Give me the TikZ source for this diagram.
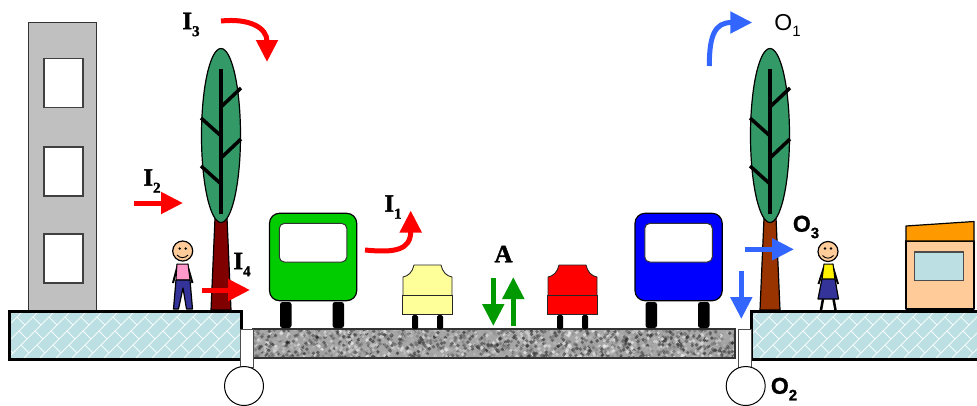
\documentclass[tikz,border=0pt]{standalone}
\usepackage{fontspec}
\setmainfont{Liberation Serif}[BoldFeatures={FakeBold=1.6}]
\newfontfamily\lblsans{Liberation Sans}[BoldFeatures={FakeBold=1}]
\usepackage{xcolor}
\usepackage{tikz}
\usetikzlibrary{arrows.meta}

\definecolor{wallgray}{HTML}{C0C0C0}
\definecolor{paveblue}{HTML}{BBDFE3}
\definecolor{leafgreen}{HTML}{339966}
\definecolor{trunkred}{HTML}{800000}
\definecolor{trunkbrown}{HTML}{993300}
\definecolor{busgreen}{HTML}{00CC00}
\definecolor{busblue}{HTML}{0000FF}
\definecolor{carcream}{HTML}{FFFF99}
\definecolor{skintone}{HTML}{FFCC99}
\definecolor{pinkshirt}{HTML}{FF99CC}
\definecolor{navycloth}{HTML}{333399}
\definecolor{roofamber}{HTML}{FF9900}
\definecolor{arrowgreen}{HTML}{009900}
\definecolor{arrowblue}{HTML}{3366FF}

\newcommand{\flowlbl}[2]{#1\raisebox{-.28em}{\fontsize{15}{15}\selectfont #2}}

\tikzset{
  flowred/.style={red,line width=5pt,-{Triangle[length=22pt,width=21pt]}},
  flowblue/.style={arrowblue,line width=5pt,-{Triangle[length=22pt,width=21pt]}},
  flowgreen/.style={arrowgreen,line width=5pt,-{Triangle[length=22pt,width=21pt]}},
  lbl/.style={font=\fontsize{25}{25}\selectfont\bfseries,inner sep=0pt},
  lblo/.style={font=\fontsize{23}{23}\selectfont\lblsans,inner sep=0pt},
  outline/.style={draw=black,line width=1.2pt,line join=round},
  wheel/.style={fill=black,rounded corners=2.5pt},
}

\begin{document}
\begin{tikzpicture}[x=1pt,y=-1pt]
\useasboundingbox (0,0) rectangle (977,405);

% building
\draw[draw=black!80,line width=1pt,fill=wallgray] (28.5,22.5) rectangle (96.5,310);
\foreach \wy in {58.5,147,234}
  \draw[draw=black!75,line width=1.2pt,fill=white] (44,\wy) rectangle (83,\wy+49);

% kiosk
\draw[outline,fill=skintone] (906,241) rectangle (974,309);
\draw[outline,fill=roofamber] (906,226) -- (974,221.5) -- (974,241) -- (906,241) -- cycle;
\draw[draw=black!70,line width=1.2pt,fill=paveblue] (914.3,252) rectangle (963.3,280.7);

% trees
\foreach \tx/\tcol/\tlow/\tup in {221/trunkred/10/6,770/trunkbrown/10/6}{
  \draw[outline,fill=\tcol] (\tx-\tup,218) -- (\tx+\tup,218) -- (\tx+\tlow,310) -- (\tx-\tlow,310) -- cycle;
  \draw[outline,fill=leafgreen] (\tx,135.5) ellipse (19.5 and 87);
  \draw[black,line width=4.5pt] (\tx,69) -- (\tx,214);
  \draw[black,line width=3.5pt] (\tx+1,106) -- (\tx+20,88) (\tx-1,135) -- (\tx-20,118)
    (\tx+1,157) -- (\tx+20,139) (\tx-1,183) -- (\tx-20,166);
}

% left pavement and right pavement
\foreach \pa/\pb in {9/241,751/982}{
  \fill[paveblue] (\pa,311) rectangle (\pb,359);
  \begin{scope}
    \clip (\pa,311) rectangle (\pb,359);
    \foreach \dx in {-60,-44,...,1000}{
      \draw[white!85!paveblue,line width=.9pt] (\dx,362) -- (\dx+55,307);
      \foreach \st in {0,1,2,3}
        \draw[white!85!paveblue,line width=.9pt] (\dx+\st*14+3,359-\st*14) -- (\dx+\st*14+11,367-\st*14);
    }
  \end{scope}
  \draw[black,line width=3pt] (\pa,311) rectangle (\pb,359);
}

% road surface
\fill[black!35] (253,329) rectangle (735,358);
\begin{scope}
  \clip (253,329) rectangle (735,358);
  \pgfmathsetseed{4217}
  \foreach \i in {1,...,1700}{
    \pgfmathsetmacro{\rx}{253+rnd*482}
    \pgfmathsetmacro{\ry}{329+rnd*29}
    \pgfmathsetmacro{\rk}{rnd*90}
    \fill[black!\rk!white,opacity=.6] (\rx,\ry) circle (1.9);
  }
\end{scope}
\draw[black!80,line width=1.5pt] (253,329) rectangle (735,358);

% drains
\foreach \gx/\cx in {240/244,738/745.7}{
  \draw[draw=black!70,line width=1pt,fill=white] (\gx,329) rectangle (\gx+13,367);
  \draw[black,line width=1pt,fill=white] (\cx,386) circle (19.5);
}

% buses
\foreach \bx/\bcol in {269.5/busgreen,635/busblue}{
  \fill[wheel] (\bx+10.5,302) rectangle (\bx+22,328);
  \fill[wheel] (\bx+63,302) rectangle (\bx+74.5,328);
  \draw[outline,fill=\bcol,rounded corners=10pt] (\bx,213.3) rectangle (\bx+87.2,300.7);
  \draw[draw=black!80,line width=1pt,fill=white,rounded corners=5pt] (\bx+9.8,223.4) rectangle (\bx+77.3,262);
}

% cars
\foreach \cx/\ccol in {427.5/carcream,572.5/red}{
  \begin{scope}[shift={(\cx,0)}]
    \fill[wheel,rounded corners=1.5pt] (-15.5,315) rectangle (-9.5,329);
    \fill[wheel,rounded corners=1.5pt] (9.5,315) rectangle (15.5,329);
    \draw[draw=black!85,line width=.9pt,fill=\ccol] (-24.5,296) -- (-24.5,277) .. controls (-19,276) and (-15,272) .. (-13.5,265)
      -- (13.5,265) .. controls (15,272) and (19,276) .. (24.5,277) -- (24.5,296);
    \draw[draw=black!85,line width=.9pt,fill=\ccol] (-25,295) rectangle (25,314.5);
  \end{scope}
}

% man
\draw[black,line width=2pt] (178,264) -- (173,283) (187,264) -- (192.5,283);
\draw[black,line width=1pt,fill=pinkshirt] (177,264) -- (188,264) -- (190,280) -- (176,280) -- cycle;
\draw[outline,fill=navycloth] (176,280) -- (190,280) -- (192.5,309) -- (186.5,309) -- (183,288) -- (178.5,309) -- (173.5,309) -- cycle;
\draw[outline,fill=skintone] (182.7,251) circle (10);
\fill[black] (179.7,248.5) circle (1.3) (185.7,248.5) circle (1.3);
\draw[black,line width=.9pt] (177,255) .. controls (180,258.5) and (185,258.5) .. (188,255);

% woman
\draw[black,line width=2pt] (825,264) -- (818.5,284) (832,264) -- (838,284);
\draw[black,line width=2.5pt] (823,299) -- (821,310) (833.5,299) -- (835.5,310);
\draw[black,line width=1pt,fill=yellow] (824,264) -- (833,264) -- (835,280) -- (822,280) -- cycle;
\draw[outline,fill=navycloth] (822,279) -- (835,279) -- (838.5,299) -- (818,299) -- cycle;
\draw[outline,fill=skintone] (828,251.5) circle (10);
\fill[black] (825,248.5) circle (1.3) (831,248.5) circle (1.3);
\draw[black,line width=.9pt] (822.5,255.5) .. controls (825.5,259) and (830.5,259) .. (833.5,255.5);

% flows
\coordinate (i1s) at (365,250);
\coordinate (i1e) at (410.7,210.5);
\coordinate (i2s) at (134,203);
\coordinate (i2e) at (183,203);
\coordinate (i3s) at (221,21);
\coordinate (i3e) at (267,62);
\coordinate (i4s) at (202,290);
\coordinate (i4e) at (250,290);
\coordinate (o1s) at (709.3,66);
\coordinate (o1e) at (752.3,22.5);
\coordinate (o2s) at (741.3,271);
\coordinate (o2e) at (741.3,319);
\coordinate (o3s) at (745,249.3);
\coordinate (o3e) at (794,249.3);
\coordinate (ads) at (493.3,278);
\coordinate (ade) at (493.3,326);
\coordinate (aus) at (513.3,326);
\coordinate (aue) at (513.3,277);

\draw[flowred] (i1s) .. controls (395,253) and (410.7,250) .. (i1e);
\draw[flowred] (i2s) -- (i2e);
\draw[flowred] (i3s) .. controls (250,18) and (267,28) .. (i3e);
\draw[flowred] (i4s) -- (i4e);
\draw[flowblue] (o1s) .. controls (709.3,35) and (715,22.5) .. (o1e);
\draw[flowblue] (o2s) -- (o2e);
\draw[flowblue] (o3s) -- (o3e);
\draw[flowgreen] (ads) -- (ade);
\draw[flowgreen] (aus) -- (aue);

% labels
\node[lbl] (i1) at (393,207) {\flowlbl{I}{1}};
\node[lbl] (i2) at (152,181) {\flowlbl{I}{2}};
\node[lbl] (i3) at (191,24.5) {\flowlbl{I}{3}};
\node[lbl] (i4) at (242,264.5) {\flowlbl{I}{4}};
\node[lblo] (o1) at (787.5,25.5) {\flowlbl{O}{1}};
\node[lbl,font=\fontsize{23}{23}\selectfont\lblsans\bfseries] (o2) at (784,389) {\flowlbl{O}{2}};
\node[lbl,font=\fontsize{23}{23}\selectfont\lblsans\bfseries] (o3) at (806,227) {\flowlbl{O}{3}};
\node[lbl] (a) at (503.5,254) {A};

\end{tikzpicture}
\end{document}
